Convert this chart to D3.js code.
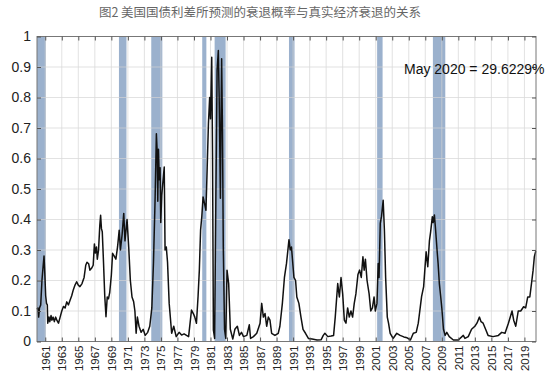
<!DOCTYPE html>
<html>
<head>
<meta charset="utf-8">
<script src="https://cdn.jsdelivr.net/npm/d3@7"></script>
<style>
  html, body { margin: 0; padding: 0; background: #fff; }
  svg { display: block; }
</style>
</head>
<body>
<svg id="chart" width="553" height="379"></svg>
<script>
// ---- data ----
const title = "图2 美国国债利差所预测的衰退概率与真实经济衰退的关系";
const annotation = "May 2020 = 29.6229%";

const xTickYears = d3.range(1961, 2020, 2);
const yTickValues = [0, 0.1, 0.2, 0.3, 0.4, 0.5, 0.6, 0.7, 0.8, 0.9, 1];

// recession periods (start, end) in decimal years
const recessionStart = [1960.0, 1969.92, 1973.83, 1980.0, 1981.5, 1990.5, 2001.17, 2007.92];
const recessionEnd   = [1961.08, 1970.83, 1975.17, 1980.5, 1982.83, 1991.17, 2001.83, 2009.42];

// probability series (decimal year, probability)
const years = [
1960.00,1960.10,1960.20,1960.30,1960.45,1960.60,1960.75,1960.85,1960.95,1961.05,
1961.15,1961.25,1961.30,1961.45,1961.55,1961.70,1961.80,1961.95,1962.10,1962.25,
1962.40,1962.60,1962.80,1963.00,1963.20,1963.40,1963.60,1963.80,1964.00,1964.20,
1964.40,1964.60,1964.80,1965.00,1965.20,1965.45,1965.70,1965.90,1966.05,1966.25,
1966.40,1966.60,1966.80,1966.95,1967.05,1967.20,1967.30,1967.45,1967.60,1967.70,
1967.80,1967.90,1968.05,1968.20,1968.35,1968.50,1968.65,1968.80,1969.00,1969.15,
1969.35,1969.55,1969.75,1969.95,1970.10,1970.30,1970.50,1970.65,1970.90,1971.10,
1971.30,1971.50,1971.70,1971.85,1972.00,1972.15,1972.35,1972.60,1972.85,1973.10,
1973.40,1973.65,1973.90,1974.10,1974.30,1974.45,1974.55,1974.62,1974.70,1974.80,
1974.90,1974.98,1975.10,1975.40,1975.50,1975.65,1975.80,1976.00,1976.30,1976.55,
1976.85,1977.20,1977.50,1977.80,1978.10,1978.35,1978.70,1978.95,1979.10,1979.30,
1979.50,1979.65,1979.80,1979.95,1980.10,1980.30,1980.45,1980.60,1980.75,1980.90,
1981.00,1981.15,1981.25,1981.35,1981.50,1981.65,1981.80,1981.95,1982.05,1982.20,
1982.28,1982.35,1982.45,1982.55,1982.70,1982.85,1983.00,1983.20,1983.40,1983.70,
1983.95,1984.25,1984.50,1984.75,1985.00,1985.40,1985.70,1985.85,1986.20,1986.60,
1987.00,1987.20,1987.40,1987.60,1987.80,1988.00,1988.20,1988.40,1988.80,1989.20,
1989.40,1989.70,1989.95,1990.20,1990.50,1990.65,1990.80,1990.95,1991.10,1991.30,
1991.45,1991.70,1991.95,1992.20,1992.50,1992.85,1993.30,1993.90,1994.40,1994.65,
1994.85,1995.20,1995.60,1995.90,1996.10,1996.40,1996.60,1996.80,1997.00,1997.20,
1997.40,1997.60,1997.80,1998.00,1998.20,1998.40,1998.60,1998.85,1999.05,1999.25,
1999.45,1999.60,1999.75,1999.95,2000.20,2000.40,2000.60,2000.80,2000.95,2001.15,
2001.30,2001.40,2001.55,2001.70,2001.90,2002.05,2002.20,2002.40,2002.55,2002.75,
2003.10,2003.55,2003.95,2004.40,2004.80,2005.20,2005.55,2005.90,2006.15,2006.55,
2006.80,2007.10,2007.30,2007.50,2007.65,2007.85,2007.95,2008.10,2008.25,2008.45,
2008.55,2008.70,2008.87,2009.00,2009.20,2009.40,2009.60,2009.90,2010.40,2011.00,
2011.60,2011.80,2012.20,2012.60,2013.00,2013.25,2013.55,2013.75,2014.00,2014.30,
2014.60,2015.20,2015.85,2016.25,2016.65,2017.06,2017.50,2017.70,2017.95,2018.25,
2018.55,2018.90,2019.15,2019.40,2019.65,2019.90,2020.05,2020.20,2020.37
];
const prob = [
0.105,0.11,0.08,0.11,0.12,0.20,0.25,0.28,0.22,0.15,
0.125,0.12,0.06,0.08,0.065,0.085,0.07,0.08,0.065,0.08,
0.07,0.06,0.08,0.10,0.115,0.11,0.13,0.12,0.135,0.15,
0.17,0.185,0.196,0.185,0.18,0.19,0.21,0.25,0.26,0.255,
0.234,0.24,0.25,0.32,0.29,0.31,0.27,0.30,0.38,0.414,
0.37,0.36,0.26,0.15,0.081,0.146,0.14,0.16,0.218,0.289,
0.28,0.27,0.31,0.365,0.30,0.35,0.42,0.33,0.40,0.31,
0.20,0.146,0.13,0.10,0.027,0.08,0.05,0.03,0.04,0.02,
0.03,0.05,0.11,0.26,0.474,0.681,0.62,0.46,0.63,0.53,
0.57,0.39,0.48,0.572,0.30,0.31,0.26,0.125,0.027,0.05,
0.016,0.03,0.021,0.025,0.02,0.016,0.103,0.09,0.08,0.06,
0.15,0.234,0.365,0.41,0.474,0.45,0.43,0.57,0.714,0.80,
0.73,0.932,0.60,0.038,0.01,0.47,0.89,0.954,0.80,0.47,
0.74,0.927,0.69,0.31,0.04,0.01,0.234,0.19,0.04,0.008,
0.04,0.05,0.02,0.03,0.016,0.02,0.055,0.01,0.016,0.027,
0.06,0.125,0.08,0.092,0.05,0.08,0.07,0.027,0.02,0.027,
0.05,0.125,0.21,0.256,0.334,0.30,0.31,0.26,0.21,0.20,
0.146,0.125,0.08,0.04,0.027,0.01,0.008,0.005,0.006,0.02,
0.027,0.016,0.018,0.02,0.08,0.19,0.146,0.21,0.156,0.07,
0.06,0.11,0.08,0.10,0.08,0.125,0.156,0.22,0.234,0.21,
0.278,0.234,0.27,0.20,0.156,0.10,0.11,0.146,0.10,0.125,
0.256,0.21,0.387,0.41,0.463,0.365,0.21,0.08,0.06,0.027,
0.01,0.027,0.02,0.015,0.012,0.005,0.027,0.03,0.06,0.147,
0.18,0.294,0.245,0.33,0.36,0.409,0.39,0.415,0.365,0.29,
0.256,0.19,0.146,0.11,0.04,0.02,0.03,0.016,0.005,0.005,
0.02,0.01,0.016,0.04,0.05,0.06,0.08,0.065,0.06,0.04,
0.02,0.016,0.02,0.03,0.027,0.06,0.10,0.07,0.05,0.10,
0.10,0.114,0.11,0.146,0.146,0.20,0.234,0.278,0.296229
];

// ---- chart ----
const svg = d3.select("#chart");
const plotLeft = 37, plotRight = 536, plotTop = 36.5, plotBottom = 341.5;

const x = d3.scaleLinear().domain([1960.0, 2020.4]).range([plotLeft, plotRight]);
const y = d3.scaleLinear().domain([0, 1]).range([plotBottom, plotTop]);

// title
svg.append("text")
  .attr("x", 260).attr("y", 17)
  .attr("text-anchor", "middle")
  .attr("font-family", "'Noto Sans CJK SC', 'Noto Sans', sans-serif")
  .attr("font-size", 12.5)
  .attr("fill", "#666")
  .text(title);

// recession shading
svg.append("g").selectAll("rect")
  .data(recessionStart.map((s, i) => [s, recessionEnd[i]]))
  .join("rect")
  .attr("x", d => x(d[0]))
  .attr("width", d => x(d[1]) - x(d[0]))
  .attr("y", plotTop)
  .attr("height", plotBottom - plotTop)
  .attr("fill", "#9bb1cd");

// grid
const grid = svg.append("g").attr("stroke", "#d4d4d4").attr("stroke-width", 0.8).attr("opacity", 0.85);
grid.selectAll("line.v").data(xTickYears).join("line").attr("class", "v")
  .attr("x1", d => x(d)).attr("x2", d => x(d))
  .attr("y1", plotTop).attr("y2", plotBottom);
grid.selectAll("line.h").data(yTickValues).join("line").attr("class", "h")
  .attr("y1", d => y(d)).attr("y2", d => y(d))
  .attr("x1", plotLeft).attr("x2", plotRight);

// line
const line = d3.line().x((d, i) => x(years[i])).y(d => y(d));
svg.append("path")
  .datum(prob)
  .attr("fill", "none")
  .attr("stroke", "#111")
  .attr("stroke-width", 1.5)
  .attr("stroke-linejoin", "round")
  .attr("d", line);

// frame
svg.append("rect")
  .attr("x", plotLeft).attr("y", plotTop)
  .attr("width", plotRight - plotLeft).attr("height", plotBottom - plotTop)
  .attr("fill", "none").attr("stroke", "#777").attr("stroke-width", 1);

const fontFam = "'Liberation Sans', Arial, Helvetica, sans-serif";

// bottom axis with rotated labels
const xAxis = svg.append("g")
  .attr("transform", `translate(0,${plotBottom})`)
  .call(d3.axisBottom(x).tickValues(xTickYears).tickFormat(d3.format("d")).tickSize(-4).tickSizeOuter(0));
xAxis.select(".domain").remove();
xAxis.selectAll(".tick line").attr("stroke", "#555");
xAxis.selectAll(".tick text")
  .attr("font-family", fontFam)
  .attr("font-size", 11.5)
  .attr("fill", "#222")
  .attr("transform", "rotate(-90)")
  .attr("text-anchor", "end")
  .attr("x", -4)
  .attr("y", 0)
  .attr("dy", "0.35em");

// top ticks
const xTop = svg.append("g")
  .attr("transform", `translate(0,${plotTop})`)
  .call(d3.axisTop(x).tickValues(xTickYears).tickFormat("").tickSize(-4).tickSizeOuter(0));
xTop.select(".domain").remove();
xTop.selectAll(".tick line").attr("stroke", "#555");

// left axis
const yAxis = svg.append("g")
  .attr("transform", `translate(${plotLeft},0)`)
  .call(d3.axisLeft(y).tickValues(yTickValues).tickFormat(d => String(+d.toFixed(1))).tickSize(-4).tickSizeOuter(0).tickPadding(6));
yAxis.select(".domain").remove();
yAxis.selectAll(".tick line").attr("stroke", "#555");
yAxis.selectAll(".tick text")
  .attr("font-family", fontFam)
  .attr("font-size", 14)
  .attr("fill", "#222");

// right ticks
const yRight = svg.append("g")
  .attr("transform", `translate(${plotRight},0)`)
  .call(d3.axisRight(y).tickValues(yTickValues).tickFormat("").tickSize(-4).tickSizeOuter(0));
yRight.select(".domain").remove();
yRight.selectAll(".tick line").attr("stroke", "#555");

// annotation
svg.append("text")
  .attr("x", 404).attr("y", 74)
  .attr("font-family", fontFam)
  .attr("font-size", 14)
  .attr("fill", "#111")
  .text(annotation);
</script>
</body>
</html>
